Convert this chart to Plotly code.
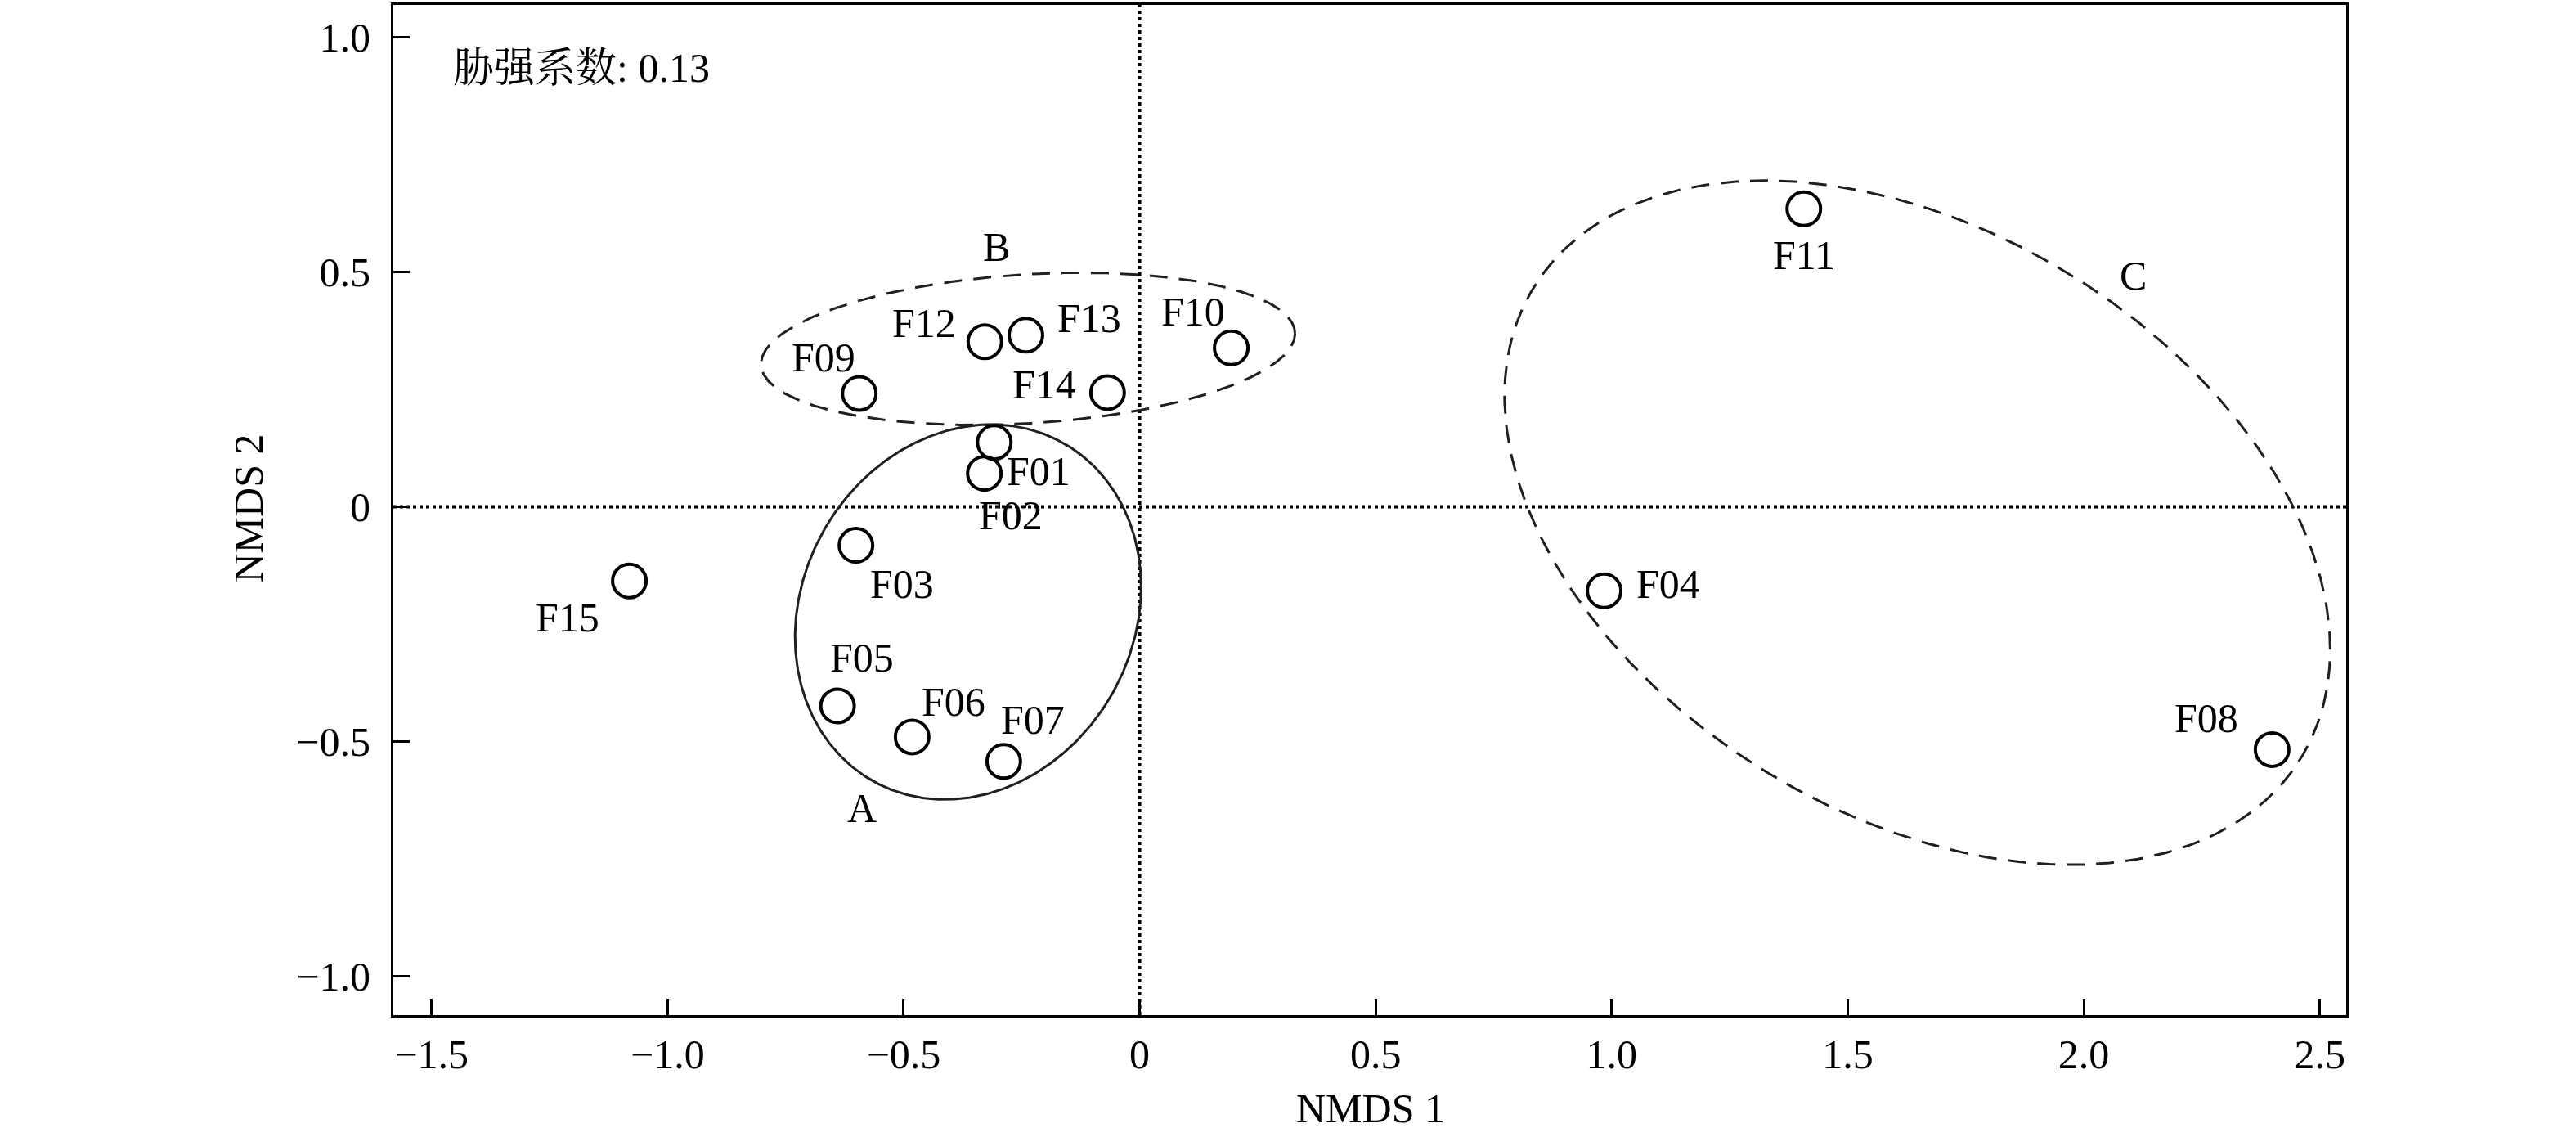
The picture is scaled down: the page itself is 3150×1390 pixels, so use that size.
import numpy as np
import plotly.graph_objects as go

# ---------------- data ----------------
sites = ["F01", "F02", "F03", "F04", "F05", "F06", "F07", "F08",
         "F09", "F10", "F11", "F12", "F13", "F14", "F15"]
nmds1 = [-0.308, -0.329, -0.601, 0.984, -0.640, -0.482, -0.288, 2.399,
         -0.594, 0.194, 1.407, -0.328, -0.241, -0.068, -1.081]
nmds2 = [0.137, 0.071, -0.082, -0.179, -0.424, -0.490, -0.542, -0.517,
         0.241, 0.338, 0.634, 0.351, 0.365, 0.243, -0.158]

# label offsets (pixels, x right / y up) for each site label
label_dx = [54, 32, 56, 78, 30, 51, 36, -80, -44, -47, 0, -74, 78, -77, -76]
label_dy = [-35, -51, -47, 8, 59, 43, 51, 38, 44, 44, -57, 23, 21, 10, -45]

# group ellipses: name, centre x, centre y, half-extent x, half-extent y, correlation, dash
groups = ["A", "B", "C"]
ell_cx = [-0.3635, -0.2365, 1.6475]
ell_cy = [-0.224, 0.336, -0.034]
ell_ex = [0.3665, 0.5655, 0.8745]
ell_ey = [0.399, 0.162, 0.728]
ell_rho = [0.134, 0.20, -0.371]
ell_dash = ["solid", "22px,14px", "22px,14px"]
group_label_x = [-0.588, -0.303, 2.104]
group_label_y = [-0.641, 0.552, 0.491]

x_tickvals = [-1.5, -1.0, -0.5, 0, 0.5, 1.0, 1.5, 2.0, 2.5]
x_ticktext = ["\u22121.5", "\u22121.0", "\u22120.5", "0", "0.5", "1.0", "1.5", "2.0", "2.5"]
y_tickvals = [1.0, 0.5, 0, -0.5, -1.0]
y_ticktext = ["1.0", "0.5", "0", "\u22120.5", "\u22121.0"]

stress_text = "胁强系数: 0.13"
x_title = "NMDS 1"
y_title = "NMDS 2"

FONT = "Liberation Serif, Times New Roman, Noto Serif CJK SC, Noto Sans CJK SC, serif"
FS = 50

fig = go.Figure()

# ellipses
t = np.linspace(0, 2 * np.pi, 400)
for i in range(len(groups)):
    ex = ell_cx[i] + ell_ex[i] * np.cos(t)
    ey = ell_cy[i] + ell_ey[i] * (ell_rho[i] * np.cos(t) + np.sqrt(1 - ell_rho[i] ** 2) * np.sin(t))
    fig.add_trace(go.Scatter(x=ex, y=ey, mode="lines",
                             line=dict(color="#231f20", width=3, dash=ell_dash[i]),
                             hoverinfo="skip", showlegend=False))

# zero lines
fig.add_shape(type="line", xref="x", yref="paper", x0=0, x1=0, y0=0, y1=1,
              line=dict(color="black", width=4, dash="4px,4px"), layer="below")
fig.add_shape(type="line", xref="paper", yref="y", x0=0, x1=1, y0=0, y1=0,
              line=dict(color="black", width=4, dash="4px,4px"), layer="below")

# points
fig.add_trace(go.Scatter(x=nmds1, y=nmds2, mode="markers", text=sites,
                         marker=dict(symbol="circle-open", size=41, color="black",
                                     line=dict(color="black", width=4)),
                         showlegend=False))

# site labels
for s, x, y, dx, dy in zip(sites, nmds1, nmds2, label_dx, label_dy):
    fig.add_annotation(x=x, y=y, text=s, showarrow=False, xshift=dx, yshift=dy,
                       xanchor="center", yanchor="middle",
                       font=dict(family=FONT, size=FS, color="black"))

# group labels
for g, x, y in zip(groups, group_label_x, group_label_y):
    fig.add_annotation(x=x, y=y, text=g, showarrow=False, xanchor="center", yanchor="middle",
                       font=dict(family=FONT, size=FS, color="black"))

# stress annotation
fig.add_annotation(xref="paper", yref="paper", x=(552 - 481) / 2388, y=1 - (80 - 3) / 1238,
                   text=stress_text, showarrow=False, xanchor="left", yanchor="middle",
                   font=dict(family=FONT, size=FS, color="black"))

# axis titles
fig.add_annotation(xref="paper", yref="paper", x=(1676 - 481) / 2388, y=-(1355 - 1241) / 1238,
                   text=x_title, showarrow=False, xanchor="center", yanchor="middle",
                   font=dict(family=FONT, size=FS, color="black"))
fig.add_annotation(xref="paper", yref="paper", x=-(481 - 304) / 2388, y=1 - (620 - 3) / 1238,
                   text=y_title, showarrow=False, xanchor="center", yanchor="middle", textangle=-90,
                   font=dict(family=FONT, size=FS, color="black"))

axis_common = dict(showgrid=False, zeroline=False, showline=True, linecolor="black",
                   linewidth=3, mirror=True, ticks="inside", ticklen=20, tickwidth=3,
                   tickcolor="black", tickfont=dict(family=FONT, size=FS, color="black"))

fig.update_xaxes(range=[-1.581, 2.556], tickvals=x_tickvals, ticktext=x_ticktext,
                 ticklabelstandoff=2, **axis_common)
fig.update_yaxes(range=[-1.082, 1.068], tickvals=y_tickvals, ticktext=y_ticktext,
                 ticklabelstandoff=15, **axis_common)

fig.update_layout(width=3150, height=1390, plot_bgcolor="white", paper_bgcolor="white",
                  margin=dict(l=481, r=281, t=3, b=149), showlegend=False,
                  font=dict(family=FONT, size=FS, color="black"))

fig.write_html("out.html", config={"displayModeBar": False},
               post_script="document.body.style.margin='0';")
